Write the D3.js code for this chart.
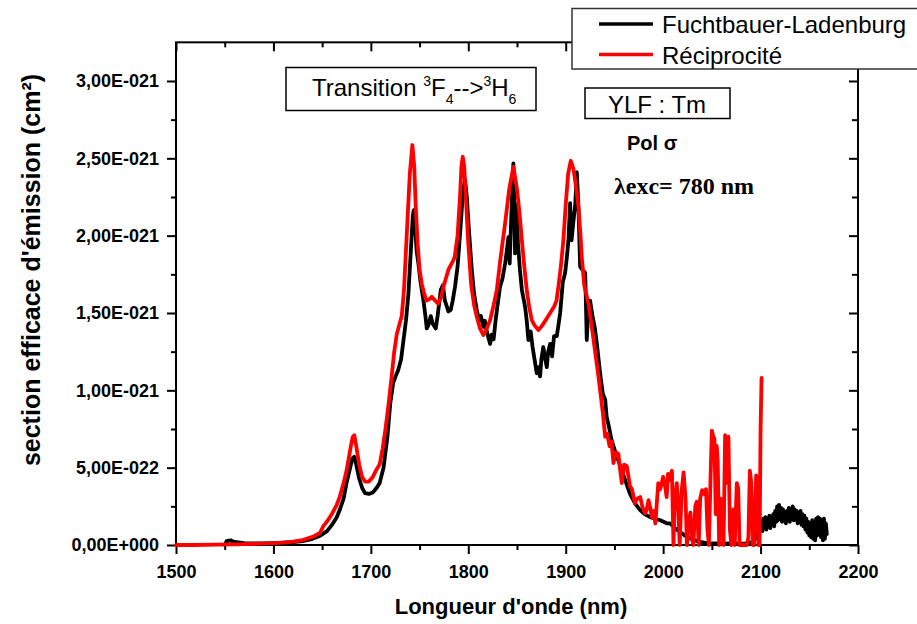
<!DOCTYPE html>
<html>
<head>
<meta charset="utf-8">
<script src="https://cdn.jsdelivr.net/npm/d3@7"></script>
<style>
  html, body { margin: 0; padding: 0; background: #fff; }
  svg { display: block; }
</style>
</head>
<body>
<svg id="chart" width="917" height="624" font-family='"Liberation Sans", Arial, sans-serif'></svg>
<script>
// ---------- DATA (cross sections in units of 1e-21 cm²) ----------
const fbWavelength = [1550,1552,1556,1560,1570,1580,1590,1600,1610,1620,1630,1640,1648,1655,1660,1665,1668,1672,1675,1678,1681,1683,1685,1688,1691,1694,1698,1702,1706,1709,1713,1717,1720,1723,1726,1728,1731,1733,1736,1738.5,1741,1743,1744,1745.5,1747,1748.8,1751,1754,1756,1757.4,1759,1761.5,1763.5,1766.6,1768.5,1771.8,1774,1776,1779.6,1782,1784,1786.4,1789,1792,1794.5,1796.7,1798.5,1800.5,1803.6,1806,1808.7,1811,1813,1815.5,1817,1819,1822.4,1824,1826,1828,1830,1832.6,1835,1837.8,1839.5,1841.2,1842.5,1844,1846.3,1847.3,1848,1849.5,1851,1853,1855,1858.3,1860,1861.7,1864,1866,1868,1870.3,1872,1873.7,1875,1877,1879,1880.6,1882,1884,1886,1888,1890.8,1892.5,1894.3,1897,1899.4,1901,1902.8,1904.5,1906,1908,1909.7,1911.4,1913,1914.8,1917,1920,1921.6,1923,1925,1927.5,1930,1932,1935.3,1938,1940.5,1942,1944.5,1947,1951,1956,1961,1966,1971,1976.4,1981,1986.7,1992,1997,2003.8,2007,2012,2018,2024,2030,2038,2045,2052,2060,2070,2080,2086,2092,2096,2098,
  2100,2101,2102,2103,2104,2105,2106,2107,2108,2109,2110,2111,2112,2113,2114,2115,2116,2117,2118,2119,2120,2121,2122,2123,2124,2125,2126,2127,2128,2129,2130,2131,2132,2133,2134,2135,2136,2137,2138,2139,2140,2141,2142,2143,2144,2145,2146,2147,2148,2149,2150,2151,2152,2153,2154,2155,2156,2157,2158,2159,2160,2161,2162,2163,2164,2165,2166,2167,2168];
const fbSigma = [0.0,0.025,0.03,0.02,0.012,0.01,0.01,0.012,0.015,0.018,0.025,0.04,0.06,0.09,0.13,0.18,0.226,0.30,0.40,0.48,0.56,0.57,0.52,0.43,0.37,0.335,0.33,0.34,0.37,0.40,0.50,0.70,0.92,1.05,1.10,1.13,1.20,1.30,1.45,1.62,1.90,2.12,2.165,2.05,1.90,1.82,1.70,1.58,1.48,1.40,1.42,1.48,1.43,1.40,1.48,1.65,1.68,1.58,1.51,1.52,1.58,1.67,1.80,2.05,2.28,2.36,2.25,2.05,1.78,1.62,1.52,1.45,1.48,1.41,1.45,1.38,1.30,1.36,1.33,1.45,1.55,1.67,1.72,1.82,1.90,1.99,1.82,2.10,2.467,2.20,1.885,2.20,1.95,1.78,1.65,1.54,1.45,1.325,1.38,1.28,1.20,1.11,1.15,1.09,1.20,1.28,1.20,1.15,1.25,1.30,1.22,1.35,1.35,1.42,1.50,1.70,1.76,1.85,1.97,2.21,1.97,2.10,2.19,2.41,2.20,1.80,1.78,1.76,1.325,1.50,1.58,1.48,1.40,1.30,1.11,0.98,0.94,0.83,0.76,0.68,0.60,0.51,0.42,0.33,0.27,0.226,0.20,0.18,0.17,0.16,0.14,0.14,0.11,0.08,0.054,0.035,0.02,0.012,0.01,0.008,0.01,0.008,0.01,0.02,0.05,0.09,
  0.10,0.16,0.09,0.17,0.11,0.18,0.10,0.17,0.12,0.19,0.11,0.18,0.13,0.20,0.12,0.22,0.15,0.25,0.16,0.26,0.17,0.24,0.15,0.23,0.16,0.21,0.14,0.22,0.16,0.24,0.15,0.23,0.17,0.25,0.16,0.23,0.17,0.22,0.14,0.21,0.15,0.22,0.13,0.20,0.12,0.19,0.10,0.17,0.08,0.15,0.06,0.12,0.05,0.16,0.04,0.09,0.03,0.17,0.06,0.18,0.08,0.17,0.05,0.15,0.03,0.17,0.04,0.14,0.07];

const recWavelength = [1500,1520,1540,1560,1580,1600,1610,1620,1630,1641,1648,1651,1656,1660,1665,1668,1672,1675,1677,1679.5,1681.5,1683,1685,1688,1691,1694,1698,1702,1706,1709,1712,1715,1718,1721,1724,1726.5,1729,1731.7,1734,1736,1738,1740,1742.6,1744.5,1746,1748,1750,1752.5,1755,1757,1760,1762.5,1766,1769,1772,1775,1779.6,1783,1786,1789,1791.5,1793,1794.3,1795.8,1797.5,1800,1803,1806,1809,1812,1815.5,1819,1822.4,1826,1829.3,1833,1837.8,1842,1846.3,1850,1852.5,1855,1857.5,1860,1862.5,1865.2,1868,1872,1876,1880,1884,1888,1890.5,1892.5,1895,1897.6,1900,1902.5,1905.2,1908,1910.5,1913,1915,1916.5,1919,1923.3,1927,1930.2,1933,1935.3,1938,1940.5,1942.5,1945,1947,1949,1951.5,1954,1956,1957.6,1960,1962.7,1964.5,1966,1968,1971,1973.5,1976.4,1979,1981.5,1983,1985,1986.5,1988.4,1990,1992,1995,1997,2000,2002,2003.6,2005,2007,2009,2010.6,2012,2014,2015.5,2017,2019,2021,2023,2024.4,2026,2028,2029.5,2031,2033,2034.5,2036.5,2038,2040,2042,2044,2045.5,2047,2048.5,2050,2051.5,2052.6,2054,2055,2056,2057.5,2059,2060.5,2062,2063.6,2065,2067,2068.5,2070,2072,2073.5,2075.6,2077,2078.5,2080,2082,2084,2086,2087.5,2089,2090.5,2092,2093.5,2095.5,2097,2098,2099,2100,2101];
const recSigma = [0.0,0.0,0.002,0.004,0.007,0.012,0.016,0.022,0.032,0.054,0.08,0.12,0.16,0.20,0.26,0.31,0.40,0.48,0.55,0.64,0.70,0.71,0.64,0.52,0.44,0.41,0.41,0.44,0.49,0.52,0.62,0.75,0.90,1.07,1.25,1.36,1.42,1.48,1.65,1.90,2.15,2.40,2.586,2.45,2.20,1.95,1.78,1.68,1.62,1.58,1.59,1.605,1.58,1.56,1.60,1.68,1.78,1.82,1.86,2.00,2.25,2.45,2.51,2.45,2.25,1.95,1.68,1.55,1.47,1.40,1.357,1.40,1.454,1.55,1.65,1.85,2.08,2.30,2.445,2.30,2.15,1.97,1.80,1.65,1.54,1.454,1.42,1.39,1.42,1.46,1.50,1.54,1.58,1.67,1.80,1.97,2.20,2.40,2.484,2.43,2.32,2.19,2.02,1.86,1.68,1.56,1.40,1.25,1.12,1.00,0.86,0.70,0.72,0.64,0.67,0.53,0.60,0.59,0.48,0.40,0.52,0.51,0.44,0.38,0.36,0.27,0.30,0.31,0.24,0.205,0.226,0.29,0.25,0.18,0.22,0.14,0.40,0.36,0.44,0.38,0.31,0.46,0.42,0.48,0.0,0.30,0.40,0.25,0.0,0.35,0.47,0.30,0.0,0.15,0.21,0.05,0.0,0.25,0.28,0.0,0.30,0.355,0.33,0.36,0.10,0.0,0.40,0.74,0.70,0.69,0.20,0.64,0.55,0.0,0.30,0.20,0.0,0.71,0.40,0.70,0.10,0.0,0.23,0.0,0.40,0.37,0.0,0.0,0.0,0.0,0.0,0.05,0.48,0.40,0.0,0.0,0.45,0.42,0.0,0.0,0.74,1.08];

const seriesNames = ["Fuchtbauer-Ladenburg", "Réciprocité"];
const seriesColors = ["#000000", "#ff0000"];

const xMajorTicks = [1500,1600,1700,1800,1900,2000,2100,2200];
const xTickLabels = ["1500","1600","1700","1800","1900","2000","2100","2200"];
const xMinorTicks = [1550,1650,1750,1850,1950,2050,2150];
const yMajorTicks = [0,0.5,1.0,1.5,2.0,2.5,3.0];
const yTickLabels = ["0,00E+000","5,00E-022","1,00E-021","1,50E-021","2,00E-021","2,50E-021","3,00E-021"];
const yMinorTicks = [0.25,0.75,1.25,1.75,2.25,2.75];

// ---------- LAYOUT ----------
const SANS = '"Liberation Sans", Arial, sans-serif';
const svg = d3.select("#chart");
const L = 176, R = 858, B = 545;
const x = d3.scaleLinear().domain([1500, 2200]).range([L, R]);
const y = d3.scaleLinear().domain([0, 3.25]).range([B, B - 3.25 * 154.67]);
const T = y(3.25);

function styleAxis(g, w) {
  g.select(".domain").remove();
  g.selectAll("line").attr("stroke", "#000").attr("stroke-width", w);
}
function styleLabels(g) {
  g.selectAll("text").attr("font-size", 18).attr("font-weight", "bold").attr("fill", "#000")
    .attr("font-family", SANS);
}

// bottom
svg.append("g").attr("transform", `translate(0,${B})`)
  .call(d3.axisBottom(x).tickValues(xMajorTicks).tickFormat((d,i)=>xTickLabels[i]).tickSize(9).tickPadding(11))
  .call(g => styleAxis(g, 2)).call(styleLabels);
svg.append("g").attr("transform", `translate(0,${B})`)
  .call(d3.axisBottom(x).tickValues(xMinorTicks).tickFormat("").tickSize(5))
  .call(g => styleAxis(g, 2));
// top (inward)
svg.append("g").attr("transform", `translate(0,${T})`)
  .call(d3.axisTop(x).tickValues(xMajorTicks).tickFormat("").tickSize(-9))
  .call(g => styleAxis(g, 2));
svg.append("g").attr("transform", `translate(0,${T})`)
  .call(d3.axisTop(x).tickValues(xMinorTicks).tickFormat("").tickSize(-5))
  .call(g => styleAxis(g, 2));
// left
svg.append("g").attr("transform", `translate(${L},0)`)
  .call(d3.axisLeft(y).tickValues(yMajorTicks).tickFormat((d,i)=>yTickLabels[i]).tickSize(9).tickPadding(8))
  .call(g => styleAxis(g, 2)).call(styleLabels);
svg.append("g").attr("transform", `translate(${L},0)`)
  .call(d3.axisLeft(y).tickValues(yMinorTicks).tickFormat("").tickSize(5))
  .call(g => styleAxis(g, 2));
// right (inward)
svg.append("g").attr("transform", `translate(${R},0)`)
  .call(d3.axisRight(y).tickValues(yMajorTicks).tickFormat("").tickSize(-9))
  .call(g => styleAxis(g, 2));
svg.append("g").attr("transform", `translate(${R},0)`)
  .call(d3.axisRight(y).tickValues(yMinorTicks).tickFormat("").tickSize(-6))
  .call(g => styleAxis(g, 2));

// frame
svg.append("rect").attr("x", L).attr("y", T).attr("width", R - L).attr("height", B - T)
  .attr("fill", "none").attr("stroke", "#000").attr("stroke-width", 2);

// ---------- SERIES ----------
const line = d3.line().x(d => x(d[0])).y(d => y(d[1]));
const fbData = fbWavelength.map((w, i) => [w, fbSigma[i]]);
const recData = recWavelength.map((w, i) => [w, recSigma[i]]);
[fbData, recData].forEach((data, i) => {
  svg.append("path").datum(data).attr("d", line)
    .attr("fill", "none").attr("stroke", seriesColors[i]).attr("stroke-width", 3.8)
    .attr("stroke-linejoin", "round").attr("stroke-linecap", "round");
});

// ---------- AXIS TITLES ----------
svg.append("text").attr("x", 511).attr("y", 614).attr("text-anchor", "middle")
  .attr("font-size", 22).attr("font-weight", "bold").text("Longueur d'onde (nm)");
svg.append("text").attr("transform", "translate(40,270) rotate(-90)").attr("text-anchor", "middle")
  .attr("font-size", 25).attr("font-weight", "bold").text("section efficace d'émission (cm²)");

// ---------- ANNOTATIONS ----------
svg.append("rect").attr("x", 286).attr("y", 67.5).attr("width", 250).attr("height", 43)
  .attr("fill", "#fff").attr("stroke", "#000").attr("stroke-width", 1.5);
const tt = svg.append("text").attr("x", 312).attr("y", 96).attr("font-size", 24);
tt.append("tspan").text("Transition ");
tt.append("tspan").attr("font-size", 14).attr("dy", -10).text("3");
tt.append("tspan").attr("dy", 10).text("F");
tt.append("tspan").attr("font-size", 14).attr("dy", 8).text("4");
tt.append("tspan").attr("dy", -8).text("-->");
tt.append("tspan").attr("font-size", 14).attr("dy", -10).text("3");
tt.append("tspan").attr("dy", 10).text("H");
tt.append("tspan").attr("font-size", 14).attr("dy", 8).text("6");

svg.append("rect").attr("x", 585).attr("y", 88).attr("width", 145).attr("height", 30.5)
  .attr("fill", "#fff").attr("stroke", "#000").attr("stroke-width", 1.5);
svg.append("text").attr("x", 657).attr("y", 113).attr("text-anchor", "middle")
  .attr("font-size", 24).text("YLF : Tm");

svg.append("text").attr("x", 627).attr("y", 150).attr("font-size", 20).attr("font-weight", "bold")
  .text("Pol σ");
svg.append("text").attr("x", 614).attr("y", 194).attr("font-size", 24).attr("font-weight", "bold")
  .attr("font-family", '"Liberation Serif", "Times New Roman", serif').text("λexc= 780 nm");

// ---------- LEGEND ----------
svg.append("rect").attr("x", 572).attr("y", 8.5).attr("width", 380).attr("height", 60.5)
  .attr("fill", "#fff").attr("stroke", "#333").attr("stroke-width", 1.5);
seriesNames.forEach((name, i) => {
  const ly = 24 + i * 30.5;
  svg.append("line").attr("x1", 599).attr("x2", 653).attr("y1", ly).attr("y2", ly)
    .attr("stroke", seriesColors[i]).attr("stroke-width", 3.5);
  svg.append("text").attr("x", 662).attr("y", ly + 9).attr("font-size", 24).text(name);
});
</script>
</body>
</html>
